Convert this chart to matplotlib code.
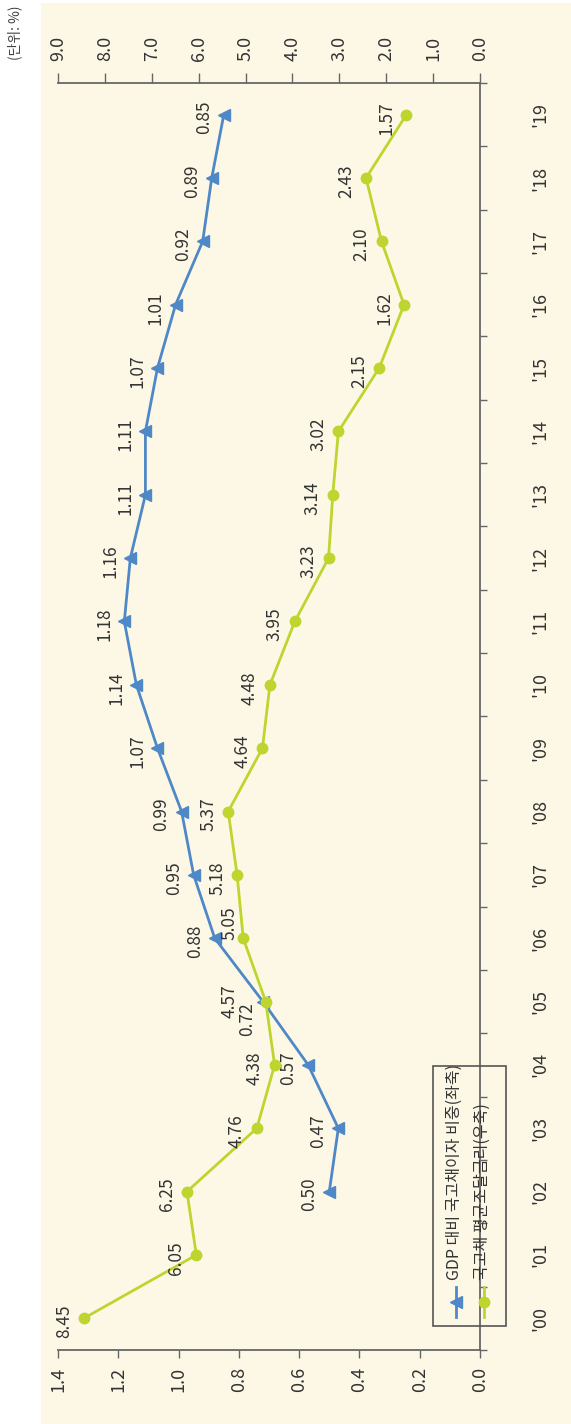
import numpy as np
import matplotlib
matplotlib.use('Agg')
import matplotlib.pyplot as plt
from matplotlib.patches import Rectangle
from matplotlib.lines import Line2D

plt.rcParams['font.family'] = ['Noto Sans CJK KR', 'DejaVu Sans']

# data
years = ["'00", "'01", "'02", "'03", "'04", "'05", "'06", "'07", "'08", "'09",
         "'10", "'11", "'12", "'13", "'14", "'15", "'16", "'17", "'18", "'19"]
gdp_ratio = [0.50, 0.47, 0.57, 0.72, 0.88, 0.95, 0.99, 1.07, 1.14, 1.18,
             1.16, 1.11, 1.11, 1.07, 1.01, 0.92, 0.89, 0.85]   # from '02
rate = [8.45, 6.05, 6.25, 4.76, 4.38, 4.57, 5.05, 5.18, 5.37, 4.64,
        4.48, 3.95, 3.23, 3.14, 3.02, 2.15, 1.62, 2.10, 2.43, 1.57]
left_ticks = [0.0, 0.2, 0.4, 0.6, 0.8, 1.0, 1.2, 1.4]
right_ticks = [0.0, 1.0, 2.0, 3.0, 4.0, 5.0, 6.0, 7.0, 8.0, 9.0]
legend_labels = ['GDP 대비 국고채이자 비중(좌축)', '국고채 평균조달금리(우축)']

blue = '#4F88C6'
green = '#BDD52E'
txt = '#333333'
axcol = '#666666'

W, H = 571, 1424
fig = plt.figure(figsize=(W / 100, H / 100), dpi=100)
fig.patch.set_facecolor('white')
fig.patches.append(Rectangle((41 / W, 0), 1 - 41 / W, 1 - 3 / H,
                             transform=fig.transFigure, facecolor='#FDF8E6',
                             edgecolor='none', zorder=-5))

def fx(px):
    return px / W

def fy(py):
    return 1 - py / H

# chart is drawn turned on its side: values run right->left, years bottom->top
ax = fig.add_axes([fx(58), fy(1350), (480 - 58) / W, (1350 - 83) / H])
ax.set_facecolor('none')
idx = np.arange(len(years))
ax.set_xlim(1.4, 0)
ax.set_ylim(-0.5, len(years) - 0.5)
ax.set_xticks(left_ticks)
ax.set_xticklabels(['%.1f' % v for v in left_ticks], rotation=90)
ax.tick_params(axis='x', direction='out', length=6, width=1, color=axcol,
               pad=6, labelsize=13, labelcolor=txt)
ax.yaxis.tick_right()
ax.set_yticks(idx)
ax.set_yticklabels(years, rotation=90, va='center')
ax.set_yticks(np.arange(-0.5, len(years), 1), minor=True)
ax.tick_params(axis='y', which='major', length=0, pad=37, labelsize=13, labelcolor=txt)
ax.tick_params(axis='y', which='minor', length=5, width=1, color=axcol, direction='out')
for s in ['left', 'top']:
    ax.spines[s].set_visible(False)
for s in ['right', 'bottom']:
    ax.spines[s].set_color(axcol)
    ax.spines[s].set_linewidth(1.3)

ax2 = ax.twiny()
ax2.set_xlim(9, 0)
ax2.set_xticks(right_ticks)
ax2.set_xticklabels(['%.1f' % v for v in right_ticks], rotation=90)
ax2.tick_params(axis='x', direction='out', length=7, width=1, color=axcol,
                pad=9, labelsize=13, labelcolor=txt)
for s in ['left', 'right', 'bottom']:
    ax2.spines[s].set_visible(False)
ax2.spines['top'].set_color(axcol)
ax2.spines['top'].set_linewidth(1.3)

gdp_idx = idx[2:]
ax.plot(gdp_ratio, gdp_idx, color=blue, lw=2, marker='<', ms=8, zorder=3)
ax2.plot(rate, idx, color=green, lw=2, marker='o', ms=7.5, zorder=3)

k = 0.72  # px -> pt
for v, i in zip(gdp_ratio, gdp_idx):
    off = (-20, -3)
    if years[i] == "'05":
        off = (-16, -18)
    ax.annotate('%.2f' % v, (v, i), xytext=(off[0] * k, off[1] * k),
                textcoords='offset points', rotation=90, ha='center', va='center',
                fontsize=12.5, color=txt)
for v, i in zip(rate, idx):
    off = (-20, -3)
    if years[i] == "'05":
        off = (-36, 0)
    if years[i] == "'06":
        off = (-14, 15)
    ax2.annotate('%.2f' % v, (v, i), xytext=(off[0] * k, off[1] * k),
                 textcoords='offset points', rotation=90, ha='center', va='center',
                 fontsize=12.5, color=txt)

# legend box
fig.patches.append(Rectangle((fx(433), fy(1326)), (506 - 433) / W, (1326 - 1066) / H,
                             transform=fig.transFigure, facecolor='none',
                             edgecolor='#555555', lw=1.2, zorder=5))
for xpx, col, mk, lab in [(456, blue, '<', legend_labels[0]),
                          (484, green, 'o', legend_labels[1])]:
    fig.add_artist(Line2D([fx(xpx), fx(xpx)], [fy(1317), fy(1287)],
                          transform=fig.transFigure, color=col, lw=2))
    fig.add_artist(Line2D([fx(xpx)], [fy(1302)], transform=fig.transFigure,
                          color=col, marker=mk, ms=7.5 if mk == 'o' else 8, lw=0))
    fig.text(fx(xpx - 2), fy(1280), lab, rotation=90, ha='center', va='bottom',
             fontsize=11.5, color=txt)

fig.text(fx(15), fy(33), '(단위: %)', rotation=90, ha='center', va='center',
         fontsize=10, color='#444444')

fig.savefig('out.png', dpi=100)
